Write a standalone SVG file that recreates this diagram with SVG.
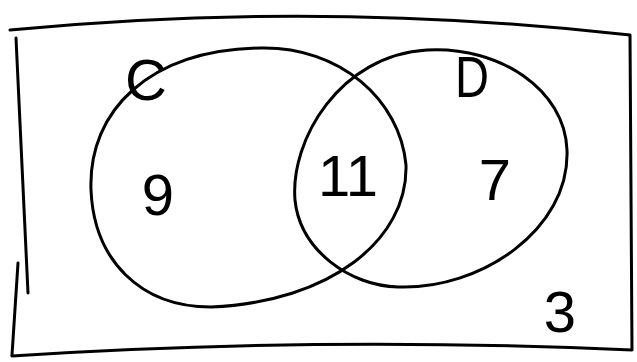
<svg xmlns="http://www.w3.org/2000/svg" width="637" height="362" viewBox="0 0 637 362">
<style>
.s{fill:none;stroke:#000;stroke-width:3;stroke-linecap:round;stroke-linejoin:round}
.t{font-family:"Liberation Sans",Arial,sans-serif;font-size:58px;fill:#000;text-anchor:middle}
</style>
<rect width="637" height="362" fill="#fff"/>
<g id="universe">
<path class="s" d="M10,30 Q320,0 630,35 L632,350 Q320,336 12,356"/>
<path class="s" d="M16,38 L28,293"/>
<path class="s" d="M18,263 L12,355"/>
<text class="t" x="560" y="332" font-size="60">3</text>
</g>
<g id="setC">
<path class="s" d="M91,190 C88,110 150,50 260,48 C340,46 400,100 406,165 C408,240 330,302 211,307 C140,307 94,260 91,190 Z"/>
<text class="t" x="146" y="100" font-size="50">C</text>
<text class="t" x="158" y="215">9</text>
</g>
<g id="setD">
<path class="s" d="M295,200 C290,140 340,55 427,50 C500,46 565,90 567,150 C570,230 480,290 398,287 C350,286 300,250 295,200 Z"/>
<text class="t" x="472" y="97" font-size="64" textLength="34" lengthAdjust="spacingAndGlyphs">D</text>
<text class="t" x="495" y="200">7</text>
</g>
<g id="intersection">
<text class="t" x="348" y="196" font-size="52">11</text>
</g>
<g id="connectors"></g>
</svg>
